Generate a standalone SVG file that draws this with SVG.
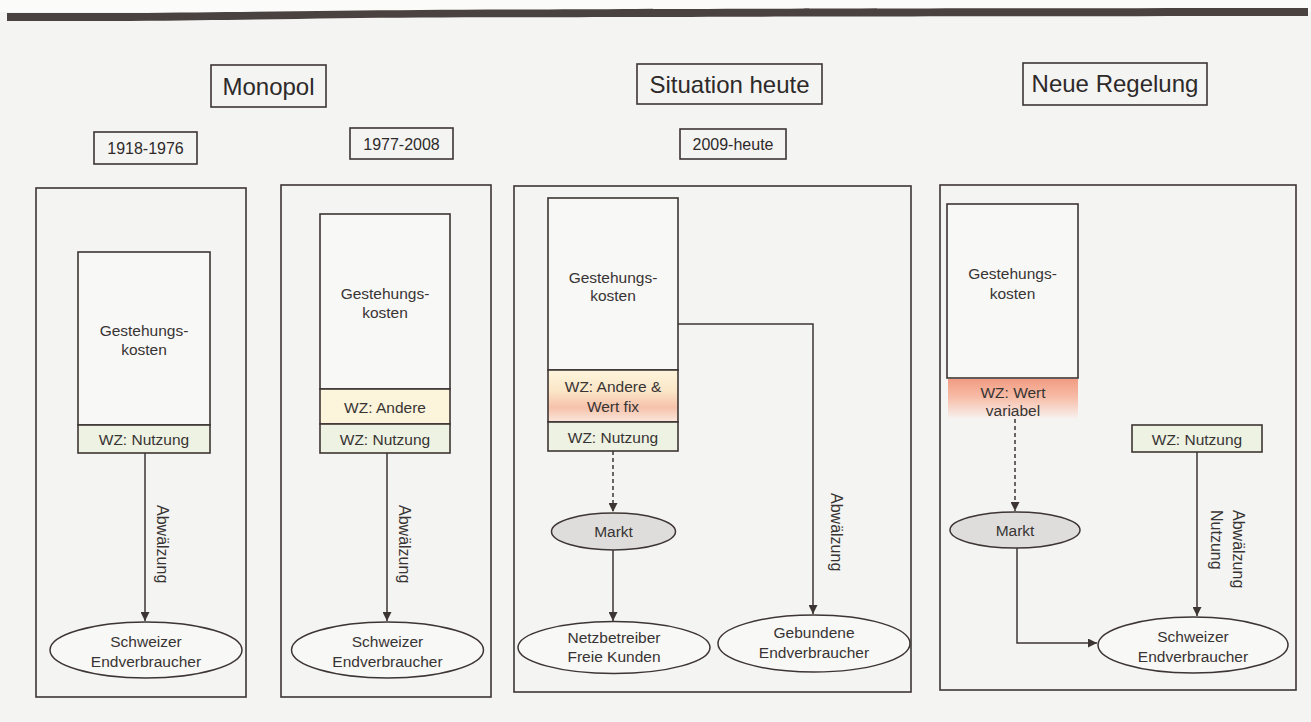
<svg xmlns="http://www.w3.org/2000/svg" width="1311" height="722" viewBox="0 0 1311 722">
<defs>
<style>
.bx{fill:none;stroke:#3d3533;stroke-width:1.6}
.wb{fill:#f8f8f6;stroke:#3d3533;stroke-width:1.6}
.gn{fill:#eef2e2;stroke:#3d3533;stroke-width:1.6}
.el{fill:#f8f8f6;stroke:#3d3533;stroke-width:1.5}
.mk{fill:#dedddb;stroke:#3d3533;stroke-width:1.5}
.t{font-family:"Liberation Sans",Arial,sans-serif;font-size:15.5px;fill:#383434;text-anchor:middle}
.h{font-family:"Liberation Sans",Arial,sans-serif;font-size:24px;fill:#2e2a2a;text-anchor:middle}
.y{font-family:"Liberation Sans",Arial,sans-serif;font-size:16px;fill:#2e2a2a;text-anchor:middle}
.r{font-family:"Liberation Sans",Arial,sans-serif;font-size:16px;fill:#383434;text-anchor:start}
.c{fill:none;stroke:#3d3533;stroke-width:1.5}
.d{fill:none;stroke:#3d3533;stroke-width:1.5;stroke-dasharray:4 3}
</style>
<marker id="ah" viewBox="0 0 10 10" refX="10" refY="5" markerWidth="9" markerHeight="9" markerUnits="userSpaceOnUse" orient="auto">
<path d="M0,0 L10,5 L0,10 Z" fill="#3d3533"/>
</marker>
<linearGradient id="gfix" x1="0" y1="0" x2="0" y2="1">
<stop offset="0" stop-color="#fdf6dc"/>
<stop offset="0.4" stop-color="#fbe6c8"/>
<stop offset="0.72" stop-color="#f6c2ab"/>
<stop offset="1" stop-color="#fae8dc"/>
</linearGradient>
<linearGradient id="gvar" x1="0" y1="0" x2="0" y2="1">
<stop offset="0" stop-color="#f29c83"/>
<stop offset="0.45" stop-color="#f7bca6"/>
<stop offset="1" stop-color="#f7f3f0"/>
</linearGradient>
</defs>
<rect x="0" y="0" width="1311" height="722" fill="#f4f4f2"/>
<rect x="0" y="0" width="1311" height="12" fill="#fbfbfa"/>
<path d="M7,13 L130,13 C250,12 330,10.5 420,10 C600,9 800,8.5 1308,8 L1308,16 C800,16.5 600,17 420,17.5 C330,18 250,20 130,21 L7,21 Z" fill="#4a4240"/>

<g id="head-monopol"><rect class="bx" x="211" y="65" width="115" height="42"/><text class="h" x="268.5" y="94.5">Monopol</text></g>
<g id="head-situation"><rect class="bx" x="637" y="64" width="185" height="40"/><text class="h" x="729.5" y="92.5">Situation heute</text></g>
<g id="head-neu"><rect class="bx" x="1023" y="63" width="184" height="42"/><text class="h" x="1115" y="92">Neue Regelung</text></g>

<g id="year1"><rect class="bx" x="94" y="132" width="103" height="32"/><text class="y" x="145.5" y="154">1918-1976</text></g>
<g id="year2"><rect class="bx" x="350" y="128" width="103" height="31"/><text class="y" x="401.5" y="149.5">1977-2008</text></g>
<g id="year3"><rect class="bx" x="680" y="129" width="106" height="30"/><text class="y" x="733" y="150">2009-heute</text></g>

<g id="panel1"><rect class="bx" x="36" y="188" width="210" height="509"/></g>
<g id="panel2"><rect class="bx" x="281" y="185" width="210" height="512"/></g>
<g id="panel3"><rect class="bx" x="514" y="186" width="397" height="506"/></g>
<g id="panel4"><rect class="bx" x="940" y="185" width="356" height="505"/></g>

<g id="gest1"><rect class="wb" x="78" y="252" width="132" height="173"/><text class="t" x="144" y="336">Gestehungs-</text><text class="t" x="144" y="355">kosten</text></g>
<g id="wzn1"><rect class="gn" x="78" y="425" width="132" height="28"/><text class="t" x="144" y="445">WZ: Nutzung</text></g>
<g id="end1"><ellipse class="el" cx="146" cy="650" rx="96" ry="28"/><text class="t" x="146" y="647">Schweizer</text><text class="t" x="146" y="667">Endverbraucher</text></g>

<g id="gest2"><rect class="wb" x="320" y="214" width="130" height="175"/><text class="t" x="385" y="299">Gestehungs-</text><text class="t" x="385" y="318">kosten</text></g>
<g id="wza2"><rect x="320" y="389" width="130" height="35" fill="#fcf5db" stroke="#3d3533" stroke-width="1.6"/><text class="t" x="385" y="413">WZ: Andere</text></g>
<g id="wzn2"><rect class="gn" x="320" y="424" width="130" height="29"/><text class="t" x="385" y="445">WZ: Nutzung</text></g>
<g id="end2"><ellipse class="el" cx="387.5" cy="650" rx="96" ry="28"/><text class="t" x="387.5" y="647">Schweizer</text><text class="t" x="387.5" y="667">Endverbraucher</text></g>

<g id="gest3"><rect class="wb" x="548" y="198" width="130" height="172"/><text class="t" x="613" y="283">Gestehungs-</text><text class="t" x="613" y="301">kosten</text></g>
<g id="wzaf3"><rect x="548" y="370" width="130" height="52" fill="url(#gfix)" stroke="#3d3533" stroke-width="1.6"/><text class="t" x="613" y="392">WZ: Andere &amp;</text><text class="t" x="613" y="412">Wert fix</text></g>
<g id="wzn3"><rect class="gn" x="548" y="422" width="130" height="29"/><text class="t" x="613" y="443">WZ: Nutzung</text></g>
<g id="markt3"><ellipse class="mk" cx="613.5" cy="531.5" rx="62" ry="18.5"/><text class="t" x="613.5" y="537">Markt</text></g>
<g id="netz3"><ellipse class="el" cx="614" cy="647.5" rx="96" ry="26"/><text class="t" x="614" y="643">Netzbetreiber</text><text class="t" x="614" y="662">Freie Kunden</text></g>
<g id="geb3"><ellipse class="el" cx="814" cy="643.5" rx="96" ry="28.5"/><text class="t" x="814" y="638">Gebundene</text><text class="t" x="814" y="658">Endverbraucher</text></g>

<g id="gest4"><rect class="wb" x="947" y="204" width="131" height="174"/><text class="t" x="1012.5" y="279">Gestehungs-</text><text class="t" x="1012.5" y="299">kosten</text></g>
<g id="wzv4"><rect x="948" y="379" width="130" height="40" fill="url(#gvar)"/><text class="t" x="1013" y="398">WZ: Wert</text><text class="t" x="1013" y="416">variabel</text></g>
<g id="wzn4"><rect class="gn" x="1132" y="425" width="130" height="27"/><text class="t" x="1197" y="445">WZ: Nutzung</text></g>
<g id="markt4"><ellipse class="mk" cx="1015" cy="530" rx="65" ry="18"/><text class="t" x="1015" y="536">Markt</text></g>
<g id="end4"><ellipse class="el" cx="1193" cy="645" rx="95" ry="28"/><text class="t" x="1193" y="642">Schweizer</text><text class="t" x="1193" y="662">Endverbraucher</text></g>

<g id="connectors">
<path class="c" d="M145,453 V621" marker-end="url(#ah)"/>
<text class="r" transform="translate(157,505) rotate(90)">Abwälzung</text>
<path class="c" d="M387,453 V621" marker-end="url(#ah)"/>
<text class="r" transform="translate(399,505) rotate(90)">Abwälzung</text>
<path class="d" d="M613,451 V512" marker-end="url(#ah)"/>
<path class="c" d="M613,550 V621" marker-end="url(#ah)"/>
<path class="c" d="M678,324 H813 V614" marker-end="url(#ah)"/>
<text class="r" transform="translate(831,493) rotate(90)">Abwälzung</text>
<path class="d" d="M1015,419 V511" marker-end="url(#ah)"/>
<path class="c" d="M1017,548 V643 H1097" marker-end="url(#ah)"/>
<path class="c" d="M1197,452 V616" marker-end="url(#ah)"/>
<text class="r" transform="translate(1233,510) rotate(90)">Abwälzung</text>
<text class="r" transform="translate(1211,510) rotate(90)">Nutzung</text>
</g>
</svg>
